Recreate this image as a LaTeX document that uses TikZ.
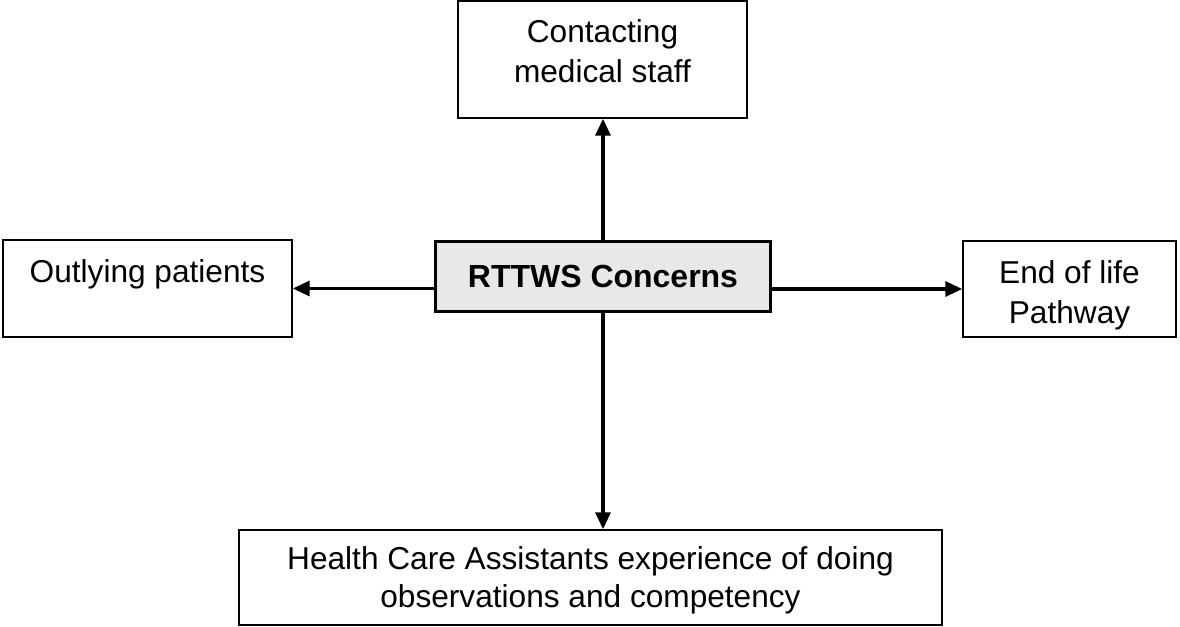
\documentclass[tikz,border=0pt]{standalone}
\usepackage{fontspec}
\setmainfont{Liberation Sans}
\usetikzlibrary{positioning, arrows.meta}

\begin{document}
\begin{tikzpicture}[every node/.style={align=center, font=\fontsize{18pt}{22.8pt}\selectfont},
	box/.style={draw, line width=0.85pt, fill=white},
	arr/.style={-{Triangle[length=0.34cm, width=0.3cm]}, line width=1.9pt, black}]
	\useasboundingbox (0,0) rectangle (23.6,-12.54);
	% Centre
	\node[draw, line width=1.8pt, fill=black!9, minimum width=6.7cm, minimum height=1.4cm, font=\fontsize{18.2pt}{22.8pt}\selectfont\bfseries] (rttws) at (12.06,-5.53) {RTTWS Concerns};
	% Concerns
	\node[box, minimum width=5.78cm, minimum height=2.34cm] (contact) at (12.05,-1.19) {Contacting\\medical staff\rule[-0.35cm]{0pt}{0.35cm}};
	\node[box, minimum width=5.78cm, minimum height=1.94cm, text depth=0.71cm] (outlying) at (2.95,-5.77) {Outlying patients};
	\node[box, minimum width=4.26cm, minimum height=1.92cm] (endlife) at (21.39,-5.78) {\rule{0pt}{0.7cm}End of life\\Pathway};
	\node[box, minimum width=14.06cm, minimum height=1.9cm, font=\fontsize{18pt}{21.6pt}\selectfont] (hca) at (11.81,-11.55) {\rule{0pt}{0.58cm}Health Care Assistants experience of doing\\observations and competency};
	% Arrows
	\draw[arr] (rttws.north) -- (rttws.north |- contact.south);
	\draw[arr] (rttws.south) -- (rttws.south |- hca.north);
	\draw[arr] (rttws.west |- outlying.east) -- (outlying.east);
	\draw[arr] (rttws.east |- endlife.west) -- (endlife.west);
\end{tikzpicture}
\end{document}
